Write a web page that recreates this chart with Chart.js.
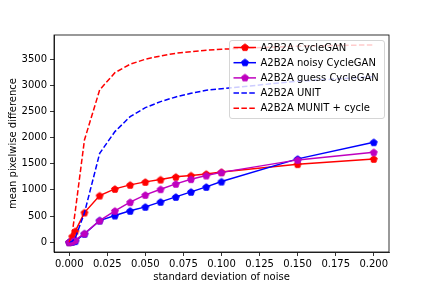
<!DOCTYPE html>
<html>
<head>
<meta charset="utf-8">
<script src="https://cdn.jsdelivr.net/npm/chart.js@4/dist/chart.umd.min.js"></script>
<style>
  html, body { margin: 0; padding: 0; background: #fff; }
  #wrap { width: 432px; height: 288px; }
</style>
</head>
<body>
<div id="wrap"><canvas id="chart" width="432" height="288"></canvas></div>
<script>
// noise levels (x) and the five series
const noise = [0, 0.002, 0.004, 0.01, 0.02, 0.03, 0.04, 0.05, 0.06, 0.07, 0.08, 0.09, 0.1, 0.15, 0.2];
const cycleGAN = [0, 110, 210, 566, 891, 1019, 1096, 1153, 1197, 1249, 1274, 1306, 1340, 1492, 1593];
const noisyCycleGAN = [0, 5, 20, 159, 413, 509, 599, 675, 771, 866, 962, 1057, 1159, 1593, 1912];
const guessCycleGAN = [0, 10, 40, 166, 413, 599, 765, 904, 1013, 1115, 1205, 1274, 1335, 1574, 1721];
const unit = [0, 20, 80, 560, 1700, 2115, 2402, 2574, 2689, 2779, 2849, 2907, 2935, 3080, 3165];
const munitCycle = [0, 180, 600, 1956, 2913, 3243, 3404, 3500, 3563, 3614, 3645, 3672, 3691, 3750, 3775];

const seriesLabels = ['A2B2A CycleGAN', 'A2B2A noisy CycleGAN', 'A2B2A guess CycleGAN', 'A2B2A UNIT', 'A2B2A MUNIT + cycle'];
const xTicks = [0, 0.025, 0.05, 0.075, 0.1, 0.125, 0.15, 0.175, 0.2];
const yTicks = [0, 500, 1000, 1500, 2000, 2500, 3000, 3500];

const FONT = 'DejaVu Sans';
const RED = '#ff0000', BLUE = '#0000ff', MAG = '#bf00bf';

// pentagon marker like matplotlib 'p'
function pentagon(color) {
    const c = document.createElement('canvas');
    c.width = 12; c.height = 12;
    const g = c.getContext('2d');
    g.beginPath();
    for (let i = 0; i < 5; i++) {
        const a = -Math.PI / 2 + i * 2 * Math.PI / 5;
        const px = 6 + 3.6 * Math.cos(a), py = 6.4 + 3.6 * Math.sin(a);
        if (i === 0) g.moveTo(px, py); else g.lineTo(px, py);
    }
    g.closePath();
    g.fillStyle = color;
    g.fill();
    g.lineWidth = 1;
    g.lineJoin = 'miter';
    g.strokeStyle = color;
    g.stroke();
    return c;
}

function pts(ys) {
    return noise.map((x, i) => ({ x: x, y: ys[i] }));
}

const allY = cycleGAN.concat(noisyCycleGAN, guessCycleGAN, unit, munitCycle);
const yMin = Math.min(...allY), yMax = Math.max(...allY);
const yPad = (yMax - yMin) * 0.05;
const xPad = (noise[noise.length - 1] - noise[0]) * 0.05;

const DASH = [5.5, 2.4];

const datasets = [
    { label: seriesLabels[0], data: pts(cycleGAN), borderColor: RED, marker: pentagon(RED), order: 5 },
    { label: seriesLabels[1], data: pts(noisyCycleGAN), borderColor: BLUE, marker: pentagon(BLUE), order: 4 },
    { label: seriesLabels[2], data: pts(guessCycleGAN), borderColor: MAG, marker: pentagon(MAG), order: 3 },
    { label: seriesLabels[3], data: pts(unit), borderColor: BLUE, dash: DASH, order: 2 },
    { label: seriesLabels[4], data: pts(munitCycle), borderColor: RED, dash: DASH, order: 1 }
].map(d => ({
    label: d.label,
    data: d.data,
    borderColor: d.borderColor,
    backgroundColor: d.borderColor,
    borderWidth: 1.5,
    borderDash: d.dash || [],
    pointStyle: d.marker || false,
    pointRadius: d.marker ? 4 : 0,
    pointHoverRadius: d.marker ? 4 : 0,
    tension: 0,
    order: d.order,
    _marker: d.marker
}));

// frame + legend in upper right, drawn like matplotlib
const framePlugin = {
    id: 'framePlugin',
    afterDraw(chart) {
        const { ctx, chartArea: a } = chart;
        ctx.save();
        ctx.strokeStyle = '#000';
        ctx.lineWidth = 0.8;
        ctx.strokeRect(a.left, a.top, a.right - a.left, a.bottom - a.top);

        // legend box
        const bx = 229.5, by = 40.5, bw = 155, bh = 78, r = 2.5;
        ctx.beginPath();
        ctx.moveTo(bx + r, by);
        ctx.lineTo(bx + bw - r, by);
        ctx.quadraticCurveTo(bx + bw, by, bx + bw, by + r);
        ctx.lineTo(bx + bw, by + bh - r);
        ctx.quadraticCurveTo(bx + bw, by + bh, bx + bw - r, by + bh);
        ctx.lineTo(bx + r, by + bh);
        ctx.quadraticCurveTo(bx, by + bh, bx, by + bh - r);
        ctx.lineTo(bx, by + r);
        ctx.quadraticCurveTo(bx, by, bx + r, by);
        ctx.closePath();
        ctx.fillStyle = 'rgba(255,255,255,0.8)';
        ctx.fill();
        ctx.strokeStyle = 'rgba(204,204,204,0.8)';
        ctx.lineWidth = 1;
        ctx.stroke();

        ctx.font = '10px "' + FONT + '"';
        ctx.textBaseline = 'middle';
        ctx.textAlign = 'left';
        chart.data.datasets.forEach((ds, i) => {
            const y = 47.5 + i * 15.2;
            ctx.beginPath();
            ctx.setLineDash(ds.borderDash);
            ctx.strokeStyle = ds.borderColor;
            ctx.lineWidth = 1.5;
            ctx.moveTo(233.5, y);
            ctx.lineTo(256, y);
            ctx.stroke();
            ctx.setLineDash([]);
            if (ds._marker) ctx.drawImage(ds._marker, 245 - 6, y - 6.4);
            ctx.fillStyle = '#000';
            ctx.fillText(ds.label, 260.5, y + 0.5);
        });
        ctx.restore();
    }
};

const tickFont = { family: FONT, size: 10 };

new Chart(document.getElementById('chart'), {
    type: 'line',
    data: { datasets: datasets },
    options: {
        responsive: false,
        animation: false,
        devicePixelRatio: 1,
        layout: { padding: { left: 0, top: 35, right: 43, bottom: 0 } },
        plugins: { legend: { display: false }, tooltip: { enabled: false } },
        scales: {
            x: {
                type: 'linear',
                min: noise[0] - xPad,
                max: noise[noise.length - 1] + xPad,
                afterBuildTicks: s => { s.ticks = xTicks.map(v => ({ value: v })); },
                afterFit: s => { s.height = 36; },
                ticks: {
                    color: '#000', font: tickFont, padding: 2, maxRotation: 0, autoSkip: false,
                    callback: v => v.toFixed(3)
                },
                grid: { display: true, drawOnChartArea: false, drawTicks: true, tickLength: 4, color: '#000', lineWidth: 0.8 },
                border: { display: true, color: '#000', width: 0.8 },
                title: { display: true, text: 'standard deviation of noise', color: '#000', font: tickFont, padding: { top: 0, bottom: 5 } }
            },
            y: {
                type: 'linear',
                min: yMin - yPad,
                max: yMax + yPad,
                afterBuildTicks: s => { s.ticks = yTicks.map(v => ({ value: v })); },
                afterFit: s => { s.width = 54; },
                ticks: { color: '#000', font: tickFont, padding: 3, autoSkip: false, callback: v => String(v) },
                grid: { display: true, drawOnChartArea: false, drawTicks: true, tickLength: 4, color: '#000', lineWidth: 0.8 },
                border: { display: true, color: '#000', width: 0.8 },
                title: { display: true, text: 'mean pixelwise difference', color: '#000', font: tickFont, padding: { top: 7, bottom: 0 } }
            }
        }
    },
    plugins: [framePlugin]
});
</script>
</body>
</html>
